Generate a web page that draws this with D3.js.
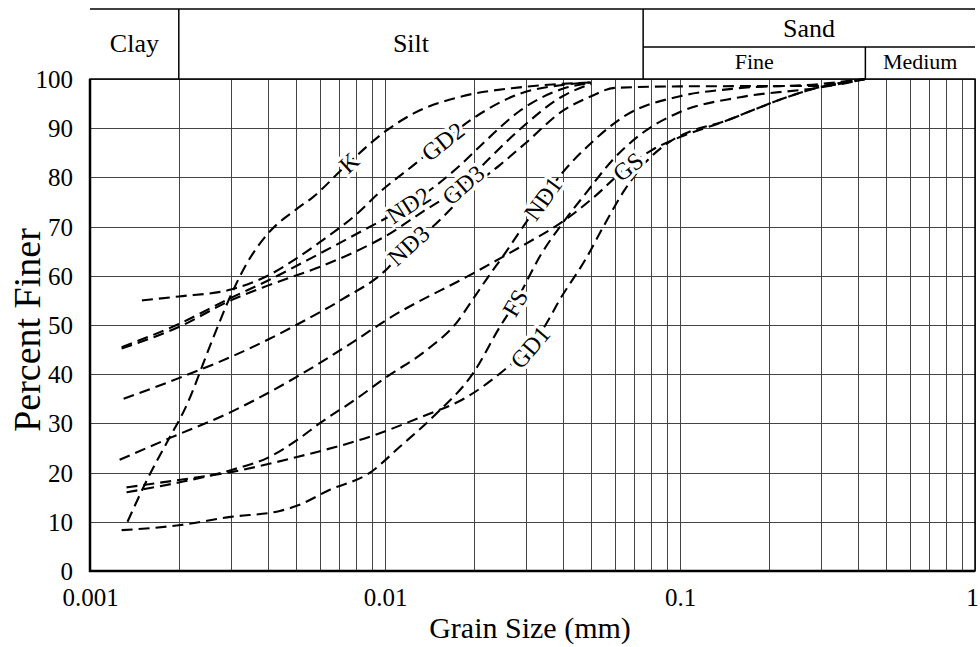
<!DOCTYPE html>
<html>
<head>
<meta charset="utf-8">
<script src="https://cdn.jsdelivr.net/npm/d3@7"></script>
<style>
  html, body { margin: 0; padding: 0; background: #fff; }
  svg { display: block; }
  svg text { font-family: "Liberation Serif", "Times New Roman", "DejaVu Serif", serif; }
</style>
</head>
<body>
<svg id="chart" width="980" height="647"></svg>
<script>
// Grain size distribution curves: grain size (mm) vs percent finer.
const seriesNames = ["K", "GD2", "ND2", "GD3", "ND3", "ND1", "GS", "FS", "GD1"];

const K   = [[0.00134,10],[0.00156,18.5],[0.00184,26.6],[0.0021,33],[0.0026,47],[0.003,56],[0.0034,62.5],[0.004,68.5],[0.005,73.5],[0.0057,76],[0.0074,82.5],[0.0101,89.5],[0.0125,93],[0.0183,96.5],[0.0286,98.3],[0.05,99.3]];
const GD2 = [[0.0015,55],[0.002,55.8],[0.003,57.2],[0.004,60],[0.005,63.5],[0.006,66.8],[0.008,72.5],[0.0096,77],[0.0125,82.5],[0.0157,87.3],[0.0199,92],[0.0286,97],[0.04,98.8],[0.05,99.3]];
const ND2 = [[0.00128,45.5],[0.002,50.2],[0.003,55.5],[0.004,59],[0.006,64.5],[0.008,68.5],[0.012,74.4],[0.015,78.5],[0.018,82.5],[0.022,87.5],[0.0286,93.5],[0.04,98],[0.05,99.2]];
const GD3 = [[0.00128,45.2],[0.002,49.6],[0.003,55],[0.004,58],[0.006,61.8],[0.008,65],[0.01,68],[0.0134,73],[0.0184,78.5],[0.0227,84],[0.0292,90.2],[0.04,96.5],[0.05,99]];
const ND3 = [[0.0013,35],[0.002,39.2],[0.003,43.5],[0.004,47],[0.005,50],[0.0072,55.3],[0.01,61],[0.012,66.2],[0.0142,69.5],[0.018,75.5],[0.0215,79.8],[0.0245,82.5],[0.03,87],[0.04,93.5],[0.05,96.5],[0.06,98.2],[0.1,98.5],[0.3,98.6],[0.425,100]];
const ND1 = [[0.00133,16],[0.002,18],[0.003,20.5],[0.004,23],[0.005,26.5],[0.006,30],[0.008,35],[0.0101,39.4],[0.0139,45],[0.0175,50.5],[0.02,55.5],[0.0225,60],[0.025,63.8],[0.0294,70],[0.034,75.4],[0.04,81],[0.05,87],[0.065,92.5],[0.1,96.5],[0.15,98],[0.3,99],[0.425,100]];
const GS  = [[0.00126,22.6],[0.00186,27],[0.003,32.3],[0.005,39.4],[0.008,47],[0.0101,51],[0.0199,60.5],[0.025,63.8],[0.03,66.5],[0.04,71],[0.05,75.5],[0.066,82],[0.08,85.5],[0.1,88.2],[0.14,91.3],[0.177,93.7],[0.23,96.3],[0.3,98.4],[0.425,100]];
const FS  = [[0.00128,8.3],[0.002,9.3],[0.003,11],[0.0044,12.2],[0.005,13.2],[0.0065,16.5],[0.0089,20],[0.0112,25.2],[0.015,32.1],[0.0199,40.2],[0.0245,49.6],[0.0276,54.5],[0.034,64.6],[0.04,70.7],[0.048,76.8],[0.059,83.5],[0.073,88.6],[0.1,93.3],[0.16,96.3],[0.3,98.3],[0.425,100]];
const GD1 = [[0.00133,17],[0.002,18.5],[0.003,20.1],[0.0049,23],[0.0096,28],[0.013,31.1],[0.019,35.4],[0.0259,41.3],[0.031,45.5],[0.035,50],[0.039,55],[0.048,63.5],[0.055,70],[0.065,77.5],[0.075,82.5],[0.09,86.8],[0.11,89.5],[0.14,91.3],[0.177,93.7],[0.23,96.3],[0.3,98.4],[0.425,100]];

const seriesData = [K, GD2, ND2, GD3, ND3, ND1, GS, FS, GD1];
// grain size at which each curve carries its name
const labelGrain = [0.00755, 0.0157, 0.012, 0.0184, 0.012, 0.0343, 0.0666, 0.0276, 0.031];

// soil classification bands across the top
const bandNames  = ["Clay", "Silt", "Sand"];
const bandBounds = [[0.001, 0.002], [0.002, 0.075], [0.075, 1]];
const sandNames  = ["Fine", "Medium"];
const sandBounds = [[0.075, 0.425], [0.425, 1]];

const xTicks = [0.001, 0.01, 0.1, 1];
const xTickLabels = ["0.001", "0.01", "0.1", "1"];
const yTicks = d3.range(0, 101, 10);

const svg = d3.select("#chart");
const L = 90, R = 975, T = 79, B = 571;
const headerTop = 9, headerMid = 47;

const x = d3.scaleLog().domain([0.001, 1]).range([L, R]);
const y = d3.scaleLinear().domain([0, 100]).range([B, T]);

// minor and major vertical grid lines
const xGrid = [];
[0.001, 0.01, 0.1].forEach(dec => { for (let m = 1; m <= 9; m++) xGrid.push(+(dec * m).toPrecision(3)); });
xGrid.push(1);

const grid = svg.append("g").attr("shape-rendering", "crispEdges");
grid.selectAll("line.v").data(xGrid).join("line")
  .attr("class", "v")
  .attr("x1", d => Math.round(x(d)) + 0.5).attr("x2", d => Math.round(x(d)) + 0.5)
  .attr("y1", T).attr("y2", B)
  .attr("stroke", "#444").attr("stroke-width", 1);
grid.selectAll("line.h").data(yTicks).join("line")
  .attr("class", "h")
  .attr("x1", L).attr("x2", R)
  .attr("y1", d => Math.round(y(d)) + 0.5).attr("y2", d => Math.round(y(d)) + 0.5)
  .attr("stroke", "#444").attr("stroke-width", 1);

// axes
const xAxis = svg.append("g")
  .attr("transform", `translate(0,${B})`)
  .call(d3.axisBottom(x).tickValues(xTicks).tickFormat((d, i) => xTickLabels[i]).tickSize(0).tickPadding(17));
const yAxis = svg.append("g")
  .attr("transform", `translate(${L},0)`)
  .call(d3.axisLeft(y).tickValues(yTicks).tickFormat(d3.format("d")).tickSize(0).tickPadding(17));
[xAxis, yAxis].forEach(g => {
  g.attr("font-family", null);
  g.select(".domain").remove();
  g.selectAll("text").attr("font-size", 25).attr("fill", "#000");
});
xAxis.selectAll("text").attr("dy", "0.71em").attr("dx", d => d === 1 ? -3 : 0);
yAxis.selectAll("text").attr("dy", "0.34em");

// plot frame
svg.append("rect").attr("x", L).attr("y", T).attr("width", R - L).attr("height", B - T)
  .attr("fill", "none").attr("stroke", "#000").attr("stroke-width", 1.5);
svg.append("line").attr("x1", L).attr("x2", L).attr("y1", T).attr("y2", B + 1)
  .attr("stroke", "#000").attr("stroke-width", 2.5);
svg.append("line").attr("x1", L - 1).attr("x2", R).attr("y1", B).attr("y2", B)
  .attr("stroke", "#000").attr("stroke-width", 2.5);

// classification header
const head = svg.append("g").attr("stroke", "#000").attr("stroke-width", 1.5);
head.append("line").attr("x1", L).attr("x2", R).attr("y1", headerTop).attr("y2", headerTop);
head.append("line").attr("x1", x(0.075)).attr("x2", R).attr("y1", headerMid).attr("y2", headerMid);
[0.002, 0.075].forEach(v => head.append("line").attr("x1", x(v)).attr("x2", x(v)).attr("y1", headerTop).attr("y2", T));
head.append("line").attr("x1", x(0.425)).attr("x2", x(0.425)).attr("y1", headerMid).attr("y2", T);

svg.append("g").selectAll("text").data(bandNames).join("text")
  .attr("x", (d, i) => (x(bandBounds[i][0]) + x(bandBounds[i][1])) / 2)
  .attr("y", (d, i) => i < 2 ? (headerTop + T) / 2 - 1 : (headerTop + headerMid) / 2)
  .attr("dy", "0.35em").attr("text-anchor", "middle")
  .attr("font-size", 26).text(d => d);
svg.append("g").selectAll("text").data(sandNames).join("text")
  .attr("x", (d, i) => (x(sandBounds[i][0]) + x(sandBounds[i][1])) / 2)
  .attr("y", (headerMid + T) / 2 - 2)
  .attr("dy", "0.35em").attr("text-anchor", "middle")
  .attr("font-size", 22).text(d => d);

// axis titles
svg.append("text").attr("x", 530).attr("y", 627).attr("dy", "0.35em")
  .attr("text-anchor", "middle").attr("font-size", 30).text("Grain Size (mm)");
svg.append("text").attr("transform", `translate(27,${(T + B) / 2 + 5}) rotate(-90)`).attr("dy", "0.35em")
  .attr("text-anchor", "middle").attr("font-size", 38).text("Percent Finer");

// curves
const line = d3.line().x(d => x(d[0])).y(d => y(d[1])).curve(d3.curveMonotoneX);
const paths = svg.append("g").selectAll("path").data(seriesData).join("path")
  .attr("d", line)
  .attr("fill", "none").attr("stroke", "#000").attr("stroke-width", 2.1)
  .attr("stroke-dasharray", "11,6");

// curve names, set along each curve at its label grain size
const labels = svg.append("g");
paths.each(function (d, i) {
  const node = this;
  const total = node.getTotalLength();
  const tx = x(labelGrain[i]);
  let lo = 0, hi = total;
  for (let k = 0; k < 40; k++) {
    const mid = (lo + hi) / 2;
    if (node.getPointAtLength(mid).x < tx) lo = mid; else hi = mid;
  }
  const p = node.getPointAtLength(lo);
  const a = node.getPointAtLength(Math.max(0, lo - 12));
  const b = node.getPointAtLength(Math.min(total, lo + 12));
  const ang = Math.atan2(b.y - a.y, b.x - a.x) * 180 / Math.PI;
  labels.append("text")
    .attr("transform", `translate(${p.x},${p.y}) rotate(${ang})`)
    .attr("dy", "0.35em").attr("text-anchor", "middle")
    .attr("font-size", 24)
    .attr("stroke", "#fff").attr("stroke-width", 7).attr("paint-order", "stroke")
    .attr("stroke-linejoin", "round")
    .attr("fill", "#000")
    .text(seriesNames[i]);
});
</script>
</body>
</html>
